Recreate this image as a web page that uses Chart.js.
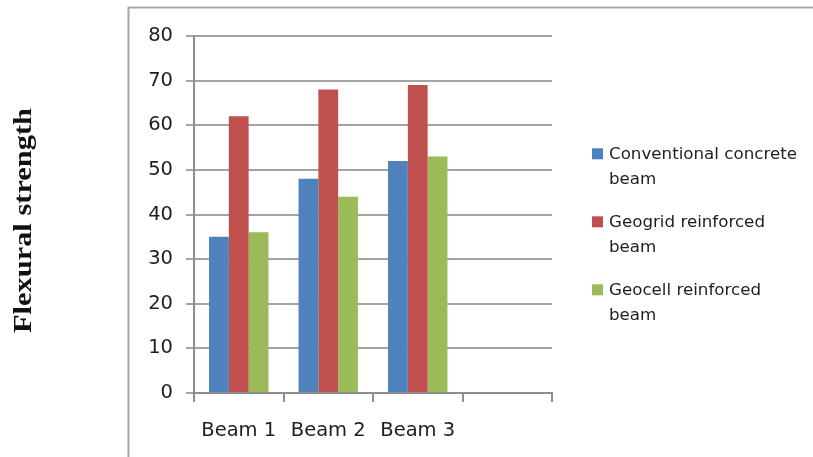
<!DOCTYPE html>
<html>
<head>
<meta charset="utf-8">
<script src="https://cdn.jsdelivr.net/npm/chart.js@4"></script>
<style>
  html, body { margin: 0; padding: 0; background: #ffffff; }
  #wrap { width: 813px; height: 457px; }
</style>
</head>
<body>
<div id="wrap"><canvas id="chart" width="813" height="457"></canvas></div>
<script>
// Categories (the last slot is an empty category, as in the worksheet chart)
const categories = ['Beam 1', 'Beam 2', 'Beam 3', ''];

// Flexural strength per beam type
const conventional = [35, 48, 52, null];
const geogrid = [62, 68, 69, null];
const geocell = [36, 44, 53, null];

// Legend text, one entry per series, already broken into lines
const seriesNames = ['Conventional concrete beam', 'Geogrid reinforced beam', 'Geocell reinforced beam'];
const legendLines = [['Conventional concrete', 'beam'], ['Geogrid reinforced', 'beam'], ['Geocell reinforced', 'beam']];

// Value axis range
const yMin = 0;
const yMax = 80;
const yStep = 10;

const yTitle = 'Flexural strength';

const COLORS = ['#4F81BD', '#C0504D', '#9BBB59'];
const AXIS_GREY = '#8e8e8e';
const GRID_GREY = '#a3a3a3';
const TEXT = '#1e1e1e';

// Outer frame, rotated axis title and the side legend
const decorations = {
  id: 'decorations',
  beforeDraw(chart) {
    const ctx = chart.ctx;
    ctx.save();
    ctx.strokeStyle = '#a8a8a8';
    ctx.lineWidth = 2;
    ctx.beginPath();
    ctx.moveTo(128.5, 460);
    ctx.lineTo(128.5, 7.5);
    ctx.lineTo(815, 7.5);
    ctx.stroke();
    ctx.restore();
  },
  afterDraw(chart) {
    const ctx = chart.ctx;

    // Axis title
    ctx.save();
    ctx.translate(24, 220.5);
    ctx.rotate(-Math.PI / 2);
    ctx.font = 'bold 26px "Liberation Serif", "Times New Roman", serif';
    ctx.fillStyle = '#111111';
    ctx.textAlign = 'center';
    ctx.textBaseline = 'middle';
    const w = ctx.measureText(yTitle).width;
    ctx.scale(225 / w, 1);
    ctx.fillText(yTitle, 0, 0);
    ctx.restore();

    // Legend
    ctx.save();
    ctx.font = '16.7px "DejaVu Sans", sans-serif';
    ctx.fillStyle = TEXT;
    ctx.textAlign = 'left';
    ctx.textBaseline = 'alphabetic';
    chart.data.datasets.forEach((ds, i) => {
      const base = 159.3 + 68 * i;
      ctx.fillStyle = ds.backgroundColor;
      ctx.fillRect(592, base - 11, 11, 11);
      ctx.fillStyle = TEXT;
      legendLines[i].forEach((line, j) => {
        ctx.fillText(line, 609, base + 25 * j);
      });
    });
    ctx.restore();
  }
};

const tickFont = { family: '"DejaVu Sans", sans-serif', size: 19.5 };

new Chart(document.getElementById('chart'), {
  type: 'bar',
  data: {
    labels: categories,
    datasets: [
      { label: seriesNames[0], data: conventional, backgroundColor: COLORS[0] },
      { label: seriesNames[1], data: geogrid, backgroundColor: COLORS[1] },
      { label: seriesNames[2], data: geocell, backgroundColor: COLORS[2] }
    ]
  },
  options: {
    responsive: false,
    animation: false,
    layout: { padding: { left: 0, top: 36, right: 261, bottom: 0 } },
    datasets: { bar: { categoryPercentage: 0.664, barPercentage: 1 } },
    plugins: { legend: { display: false }, tooltip: { enabled: false } },
    scales: {
      x: {
        grid: { drawOnChartArea: false, offset: true, tickLength: 9, color: AXIS_GREY, lineWidth: 2 },
        border: { display: true, color: AXIS_GREY, width: 2 },
        ticks: { font: tickFont, color: TEXT, padding: 17, maxRotation: 0, autoSkip: false },
        afterFit(scale) { scale.height = 64; }
      },
      y: {
        min: yMin,
        max: yMax,
        ticks: { stepSize: yStep, font: tickFont, color: TEXT, padding: 13 },
        grid: { color: GRID_GREY, lineWidth: 2, tickLength: 8 },
        border: { display: true, color: AXIS_GREY, width: 2 },
        afterFit(scale) { scale.width = 194; }
      }
    }
  },
  plugins: [decorations]
});
</script>
</body>
</html>
